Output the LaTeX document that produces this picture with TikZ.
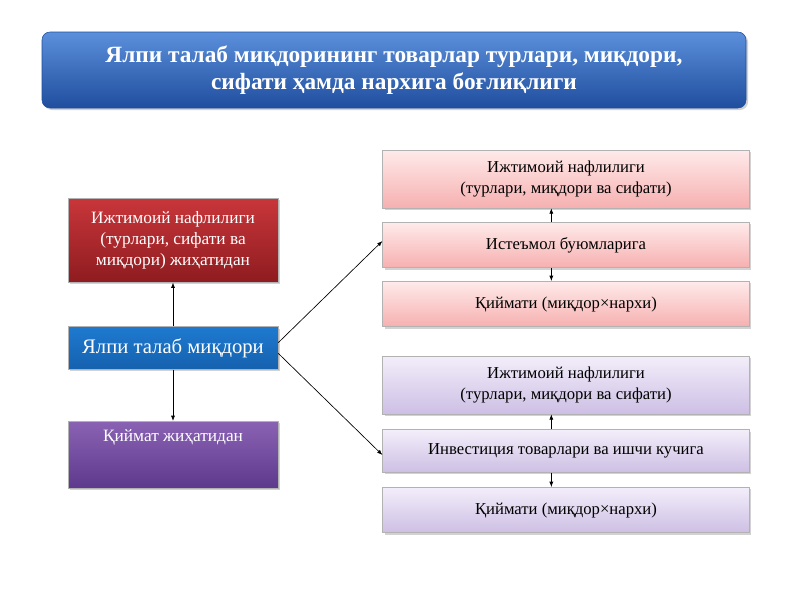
\documentclass[tikz,border=0pt]{standalone}
\usepackage{fontspec}
\setmainfont{Liberation Serif}
\usetikzlibrary{shadows,arrows.meta}
\definecolor{tA}{HTML}{5B8FDB}\definecolor{tB}{HTML}{1F4E9E}
\definecolor{rA}{HTML}{C8363A}\definecolor{rB}{HTML}{8E1C20}
\definecolor{bA}{HTML}{1E7AD0}\definecolor{bB}{HTML}{1561AE}
\definecolor{pA}{HTML}{8A62B4}\definecolor{pB}{HTML}{5E3A8C}
\definecolor{kA}{HTML}{FFEAEA}\definecolor{kB}{HTML}{F6B0B0}
\definecolor{lA}{HTML}{F3EEFA}\definecolor{lB}{HTML}{CDBFE4}
\tikzset{
 box/.style={draw=#1, line width=0.4pt, align=center, inner sep=2pt, drop shadow={opacity=0.35,shadow xshift=1.5pt,shadow yshift=-1.5pt}},
 lbox/.style={box=gray!60, text=white, font=\fontsize{13}{15.5}\selectfont, minimum width=157.5pt},
 rbox/.style={box=gray!60, font=\fontsize{12.5}{15.5}\selectfont, minimum width=275pt},
 arr/.style={-{Latex[length=4pt,width=3pt]}, line width=0.5pt}
}
\begin{document}
\begin{tikzpicture}[x=0.75pt,y=-0.75pt]
\useasboundingbox[fill=white] (0,0) rectangle (800,600);
\node[box=tB, rounded corners=6pt, top color=tA, bottom color=tB, text=white, minimum width=528pt, minimum height=57pt, font=\bfseries\fontsize{17.5}{20}\selectfont] (title) at (394,70) {Ялпи талаб миқдорининг товарлар турлари, миқдори,\\сифати ҳамда нархига боғлиқлиги};
\node[lbox, top color=rA, bottom color=rB, minimum height=63pt, anchor=north] (red) at (173,198) {Ижтимоий нафлилиги\\(турлари, сифати ва\\миқдори) жиҳатидан};
\node[lbox, top color=bA, bottom color=bB, minimum height=32pt, font=\fontsize{15.5}{18}\selectfont] (blue) at (173,348) {Ялпи талаб миқдори};
\node[lbox, top color=pA, bottom color=pB, minimum height=50pt, anchor=north, text depth=28pt] (purple) at (173,421) {Қиймат жиҳатидан};
\node[rbox, top color=kA, bottom color=kB, minimum height=43.5pt] (k1) at (566,179) {Ижтимоий нафлилиги\\(турлари, миқдори ва сифати)};
\node[rbox, top color=kA, bottom color=kB, minimum height=34pt] (k2) at (566,245) {Истеъмол буюмларига};
\node[rbox, top color=kA, bottom color=kB, minimum height=34pt] (k3) at (566,304) {Қиймати (миқдор×нархи)};
\node[rbox, top color=lA, bottom color=lB, minimum height=43.5pt] (l1) at (566,385) {Ижтимоий нафлилиги\\(турлари, миқдори ва сифати)};
\node[rbox, top color=lA, bottom color=lB, minimum height=32pt] (l2) at (566,451) {Инвестиция товарлари ва ишчи кучига};
\node[rbox, top color=lA, bottom color=lB, minimum height=34pt] (l3) at (566,510) {Қиймати (миқдор×нархи)};
\draw[arr] (blue.north) -- (red.south);
\draw[arr] (blue.south) -- (purple.north);
\draw[arr] ([yshift=4pt]blue.east) -- ([yshift=3pt]k2.west);
\draw[arr] ([yshift=-4pt]blue.east) -- ([yshift=-3pt]l2.west);
\draw[arr] ([xshift=-11pt]k2.north) -- ([xshift=-11pt]k1.south);
\draw[arr] ([xshift=-11pt]k2.south) -- ([xshift=-11pt]k3.north);
\draw[arr] ([xshift=-11pt]l2.north) -- ([xshift=-11pt]l1.south);
\draw[arr] ([xshift=-11pt]l2.south) -- ([xshift=-11pt]l3.north);
\end{tikzpicture}
\end{document}
